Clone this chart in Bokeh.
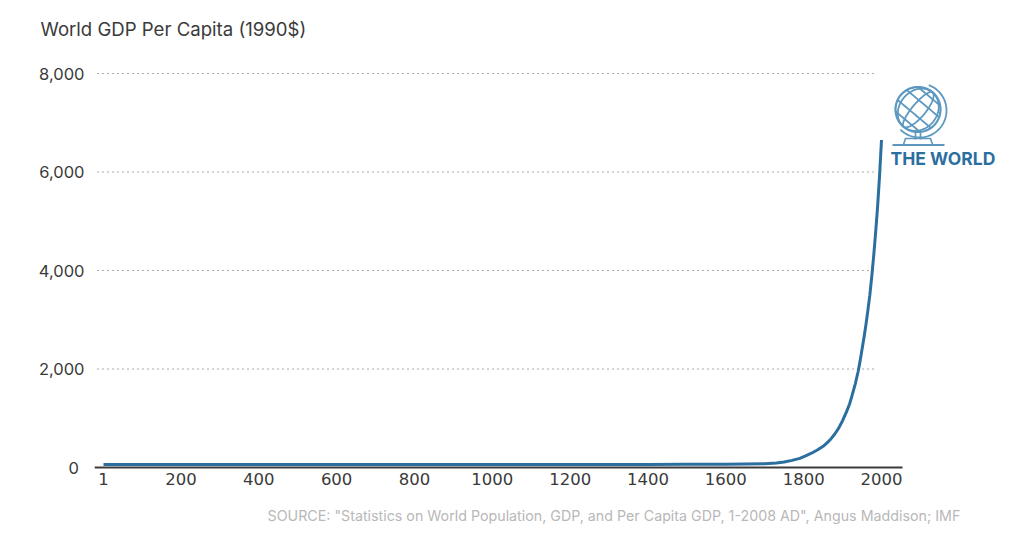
import numpy as np
from bokeh.plotting import figure
from bokeh.models import Label, FixedTicker, CustomJSTickFormatter, Title
from bokeh.embed import file_html
from bokeh.resources import INLINE

years = [1, 200, 400, 600, 800, 1000, 1200, 1400, 1500, 1600, 1700, 1730, 1750, 1770, 1790, 1805, 1820, 1835, 1850,
         1860, 1870, 1880, 1890, 1900, 1910, 1918, 1925, 1933, 1940, 1945, 1950, 1955, 1960, 1965, 1970, 1975, 1980,
         1985, 1990, 1995, 2000]
gdp = [60, 60, 60, 60, 60, 60, 60, 62, 65, 68, 75, 92, 110, 145, 185, 235, 290, 355, 430,
       500, 580, 680, 800, 950, 1130, 1290, 1480, 1710, 1950, 2160, 2400, 2640, 2900, 3190, 3500, 3880, 4300,
       4780, 5300, 5920, 6650]
x_ticks = [1, 200, 400, 600, 800, 1000, 1200, 1400, 1600, 1800, 2000]
y_ticks = [0, 2000, 4000, 6000, 8000]
grid_levels = [2000, 4000, 6000, 8000]
title = "World GDP Per Capita (1990$)"
source = "SOURCE: \"Statistics on World Population, GDP, and Per Capita GDP, 1-2008 AD\", Angus Maddison; IMF"
brand = "THE WORLD"

# page-pixel calibration of the axes
PX_PER_YEAR = (881 - 103) / 1999
PX_PER_UNIT = (467 - 73) / 8000
def dx(px): return 1 + (np.asarray(px, dtype=float) - 103) / PX_PER_YEAR
def dy(py): return (467 - np.asarray(py, dtype=float)) / PX_PER_UNIT

W, H = 1016, 546
LEFT, RIGHT, TOP, BOTTOM = 94, 1016, 40, 470
TEXT = "#3a3a3a"
FONT = "Inter"
p = figure(width=W, height=H, output_backend="svg", toolbar_location=None,
           x_range=(float(dx(LEFT)), float(dx(RIGHT))), y_range=(float(dy(BOTTOM)), float(dy(TOP))),
           min_border_left=LEFT, min_border_right=0, min_border_top=TOP, min_border_bottom=H - BOTTOM)
p.outline_line_color = None
p.grid.visible = False
for ax, ticks, standoff, fnt, size in ((p.xaxis[0], x_ticks, -4, "DejaVu Sans", "16.5px"),
                                       (p.yaxis[0], y_ticks, 4, FONT, "16.5px")):
    ax.ticker = FixedTicker(ticks=ticks)
    ax.axis_line_color = None
    ax.major_tick_line_color = None
    ax.minor_tick_line_color = None
    ax.major_label_text_font = fnt
    ax.major_label_text_font_size = size
    ax.major_label_text_color = TEXT
    ax.major_label_standoff = standoff
p.yaxis[0].formatter = CustomJSTickFormatter(code="return tick === 0 ? '0\\u2004' : tick.toLocaleString('en-US');")
p.xaxis[0].formatter = CustomJSTickFormatter(code="return String(tick);")

# dotted grid
p.segment(x0=[float(dx(97))] * len(grid_levels), x1=[float(dx(877))] * len(grid_levels),
          y0=grid_levels, y1=grid_levels, line_color="#555555", line_width=1, line_dash="1 4")
# baseline
p.segment(x0=[float(dx(94))], x1=[float(dx(902))], y0=[0], y1=[0], line_color="#3c3c3c", line_width=1.8)
# series
p.line(years, gdp, line_color="#2b6f9f", line_width=3, line_join="round")

# globe icon (page-pixel geometry)
ICON = "#5c98bf"
cx, cy, R = 917.5, 109, 22.5
def path(xs, ys, width=2.0, color=ICON):
    p.line(dx(xs), dy(ys), line_color=color, line_width=width)
t = np.linspace(0, 2 * np.pi, 120)
path(cx + R * np.cos(t), cy + R * np.sin(t), 2.2)
tilt = np.radians(40)
def sphere(lat, lon):
    X = np.cos(lat) * np.sin(lon)
    Y = np.sin(lat)
    return cx + R * (X * np.cos(tilt) - Y * np.sin(tilt)), cy + R * (X * np.sin(tilt) + Y * np.cos(tilt))
lons = np.linspace(-np.pi / 2, np.pi / 2, 50)
for la in np.radians([-50, -20, 15, 45]):
    path(*sphere(np.full(50, la), lons), 1.8)
lats = np.linspace(-np.pi / 2, np.pi / 2, 50)
for lo in np.radians([-55, -15, 20, 60]):
    path(*sphere(lats, np.full(50, lo)), 1.8)
# meridian ring
a = np.radians(np.linspace(-70, 135, 60))
path(cx + 1.5 + (R + 4.5) * np.cos(a), cy + 1 + (R + 4.5) * np.sin(a), 1.8)
# stand
path([915, 915], [132, 139], 1.6)
path([920, 920], [132, 139], 1.6)
path([903, 905, 930, 932], [144, 138, 138, 144], 1.6)
path([892, 944], [144.5, 144.5], 2.0)

p.add_layout(Title(text=title, align="left", offset=40 - LEFT, standoff=1, text_font=FONT,
                   text_font_size="18.6px", text_font_style="normal", text_color=TEXT), "above")
p.add_layout(Title(text=source, align="left", offset=267 - LEFT, standoff=35, text_font=FONT,
                   text_font_size="14.25px", text_font_style="normal", text_color="#b8b8b8"), "below")
p.add_layout(Label(x=float(dx(890)), y=float(dy(158)), text=brand, text_font=FONT, text_font_size="17.5px",
                   text_font_style="bold", text_color="#2b6f9f", text_baseline="alphabetic"))

open("out.html", "w").write(file_html(p, INLINE))
